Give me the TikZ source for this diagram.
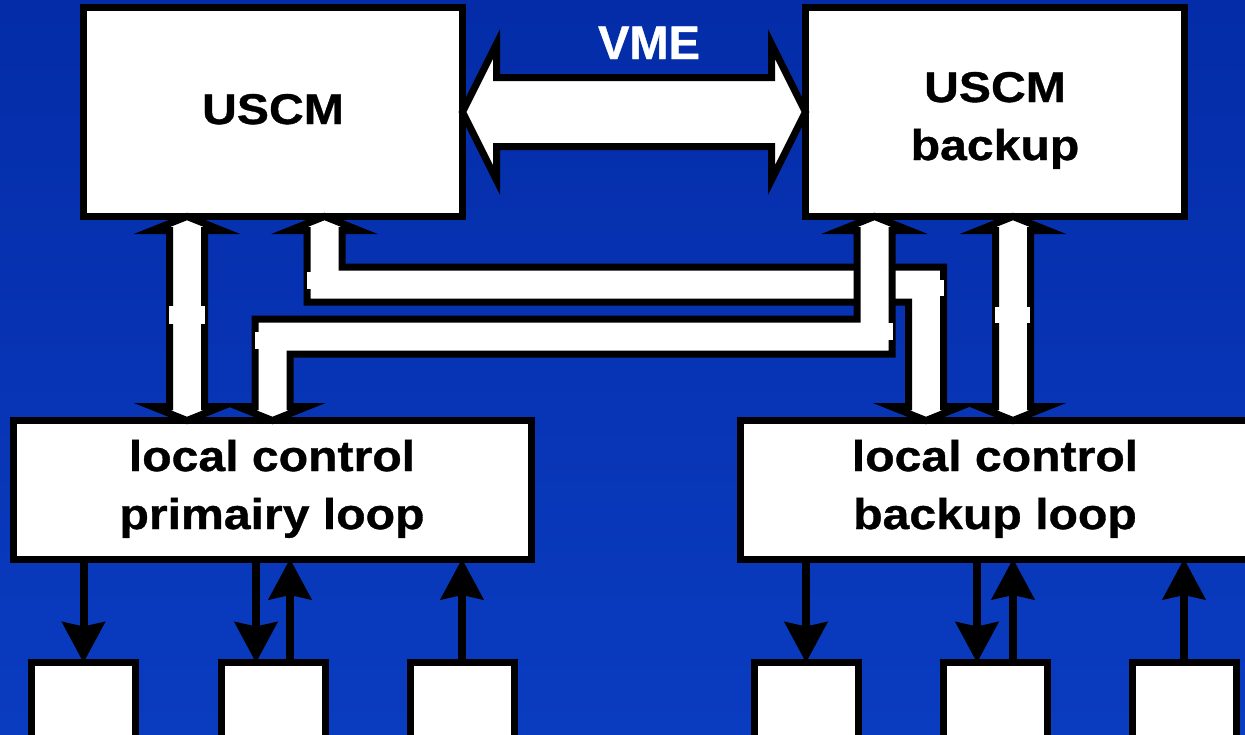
\documentclass[tikz,border=0pt]{standalone}
\usepackage{fontspec}
\setmainfont{Liberation Sans}
\newfontfamily\labelfont[FakeStretch=1.12,FakeBold=0.8]{Liberation Sans}
\newfontfamily\busfont[FakeBold=0.8]{Liberation Sans}
\usetikzlibrary{arrows.meta,calc}
\definecolor{bgtop}{RGB}{4,44,168}
\definecolor{bgbot}{RGB}{10,60,192}

\begin{document}
\begin{tikzpicture}[x=1pt,y=-1pt,
  box/.style={draw=black,fill=white,line width=7pt,inner sep=0pt,outer sep=0pt},
  txt/.style={font=\labelfont\bfseries\fontsize{43}{58}\selectfont,align=center,anchor=base,inner sep=0pt},
  bustxt/.style={font=\busfont\bfseries\fontsize{47}{50}\selectfont,text=white,anchor=base,inner sep=0pt},
  fat/.style={draw=black,fill=white,line width=7pt,line join=miter,miter limit=10},
  sig/.style={draw=black,line width=8pt,-{Stealth[length=41pt,width=44pt,inset=5pt,line width=1pt]}},
  tab/.style={fill=white}
]
\useasboundingbox (0,0) rectangle (1245,734);
\clip (0,0) rectangle (1245,734);
\shade[top color=bgtop,bottom color=bgbot] (0,0) rectangle (1245,734);

% controllers and local loops
\node[box,minimum width=379pt,minimum height=209pt] (uscm) at (273,112) {};
\node[box,minimum width=379pt,minimum height=209pt] (backup) at (995,112) {};
\node[box,minimum width=517.5pt,minimum height=138.5pt] (priloop) at (272.25,489.75) {};
\node[box,minimum width=510pt,minimum height=138.5pt] (bkloop) at (995,489.75) {};

% field devices
\foreach \n/\x in {sl1/83.5,sl2/273,sl3/462,sr1/806,sr2/995,sr3/1184}
  \node[box,minimum width=104pt,minimum height=104pt] (\n) at (\x,714.5) {};

% labels (base = baseline of the last line)
\node[txt] at (273,124) {USCM};
\node[txt] at (995,160) {USCM\\backup};
\node[txt] at (272,529) {local control\\primairy loop};
\node[txt] at (995,529) {local control\\backup loop};
\node[bustxt] at (649,59) {VME};

% x positions of the wide links and levels of their horizontal runs
\coordinate (l1) at (187,0);
\coordinate (l2) at (1013,0);
\coordinate (ax1) at (324.5,0);
\coordinate (ax2) at (926,0);
\coordinate (bx1) at (874.5,0);
\coordinate (bx2) at (272.5,0);
\coordinate (ay) at (0,284.5);
\coordinate (by) at (0,336.5);

% VME bus
\filldraw[fat] let \p1=(uscm.east), \p2=(backup.west) in
  (\p1) -- (\x1+34pt,\y1+68pt) -- (\x1+34pt,\y1+34.5pt) -- (\x2-34pt,\y2+34.5pt)
  -- (\x2-34pt,\y2+68pt) -- (\p2) -- (\x2-34pt,\y2-68pt) -- (\x2-34pt,\y2-34.5pt)
  -- (\x1+34pt,\y1-34.5pt) -- (\x1+34pt,\y1-68pt) -- cycle;

% USCM <-> primary loop
\filldraw[fat] let \p1=(uscm.south -| l1), \p2=(priloop.north -| l1) in
  (\p1) -- (\x1+35pt,\y1-14pt) -- (\x1+17.5pt,\y1-14pt) -- (\x2+17.5pt,\y2+14pt)
  -- (\x2+35pt,\y2+14pt) -- (\p2) -- (\x2-35pt,\y2+14pt) -- (\x2-17.5pt,\y2+14pt)
  -- (\x1-17.5pt,\y1-14pt) -- (\x1-35pt,\y1-14pt) -- cycle;

% USCM backup <-> backup loop
\filldraw[fat] let \p1=(backup.south -| l2), \p2=(bkloop.north -| l2) in
  (\p1) -- (\x1+35pt,\y1-14pt) -- (\x1+17.5pt,\y1-14pt) -- (\x2+17.5pt,\y2+14pt)
  -- (\x2+35pt,\y2+14pt) -- (\p2) -- (\x2-35pt,\y2+14pt) -- (\x2-17.5pt,\y2+14pt)
  -- (\x1-17.5pt,\y1-14pt) -- (\x1-35pt,\y1-14pt) -- cycle;

% USCM <-> backup loop (cross link)
\filldraw[fat] let \p1=(uscm.south -| ax1), \p2=(bkloop.north -| ax2), \p3=(ay) in
  (\p1) -- (\x1+35pt,\y1-14pt) -- (\x1+17.5pt,\y1-14pt) -- (\x1+17.5pt,\y3+17.5pt)
  -- (\x2+17.5pt,\y3+17.5pt) -- (\x2+17.5pt,\y2+14pt) -- (\x2+35pt,\y2+14pt)
  -- (\p2) -- (\x2-35pt,\y2+14pt) -- (\x2-17.5pt,\y2+14pt) -- (\x2-17.5pt,\y3-17.5pt)
  -- (\x1-17.5pt,\y3-17.5pt) -- (\x1-17.5pt,\y1-14pt) -- (\x1-35pt,\y1-14pt) -- cycle;

% USCM backup <-> primary loop (cross link)
\filldraw[fat] let \p1=(backup.south -| bx1), \p2=(priloop.north -| bx2), \p3=(by) in
  (\p1) -- (\x1+35pt,\y1-14pt) -- (\x1+17.5pt,\y1-14pt) -- (\x1+17.5pt,\y3-17.5pt)
  -- (\x2+17.5pt,\y3-17.5pt) -- (\x2+17.5pt,\y2+14pt) -- (\x2+35pt,\y2+14pt)
  -- (\p2) -- (\x2-35pt,\y2+14pt) -- (\x2-17.5pt,\y2+14pt) -- (\x2-17.5pt,\y3+17.5pt)
  -- (\x1-17.5pt,\y3+17.5pt) -- (\x1-17.5pt,\y1-14pt) -- (\x1-35pt,\y1-14pt) -- cycle;

% joints of the wide links
\fill[tab] (169,306) rectangle (205,324);
\fill[tab] (995,307) rectangle (1030,323);
\fill[tab] (307,272) rectangle (312,289);
\fill[tab] (255,332) rectangle (260,349);
\fill[tab] (888,323) rectangle (892.5,340);
\fill[tab] (938,280) rectangle (943.5,296);

% signal lines to and from the field devices
\coordinate (sl2a) at ($(sl2.north)+(-17,0)$);
\coordinate (sl2b) at ($(sl2.north)+(17,0)$);
\coordinate (sr2a) at ($(sr2.north)+(-18,0)$);
\coordinate (sr2b) at ($(sr2.north)+(18,0)$);
\draw[sig] (priloop.south -| sl1.north) -- (sl1.north);
\draw[sig] (priloop.south -| sl2a) -- (sl2a);
\draw[sig] (sl2b) -- (priloop.south -| sl2b);
\draw[sig] (sl3.north) -- (priloop.south -| sl3.north);
\draw[sig] (bkloop.south -| sr1.north) -- (sr1.north);
\draw[sig] (bkloop.south -| sr2a) -- (sr2a);
\draw[sig] (sr2b) -- (bkloop.south -| sr2b);
\draw[sig] (sr3.north) -- (bkloop.south -| sr3.north);
\end{tikzpicture}
\end{document}
